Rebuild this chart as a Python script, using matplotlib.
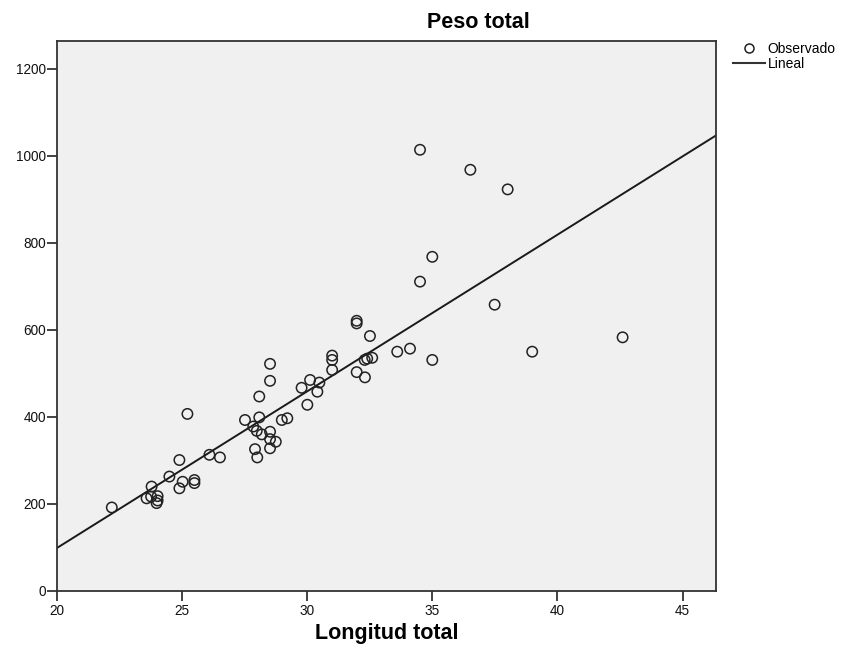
import matplotlib
matplotlib.use("Agg")
import matplotlib.pyplot as plt
from matplotlib.lines import Line2D
import numpy as np

plt.rcParams['font.family'] = ['Liberation Sans', 'DejaVu Sans']

# Observed data (Longitud total vs Peso total)
longitud = [22.2, 23.79, 23.59, 23.77, 24.03, 24.03, 23.99, 24.5, 24.9, 24.9,
            25.03, 25.5, 25.5, 25.22, 26.1, 26.52, 27.52, 27.85, 27.99, 28.19,
            28.09, 28.09, 28.52, 28.52, 28.52, 28.52, 28.75, 27.92, 28.52, 28.01,
            28.99, 29.21, 29.78, 30.12, 30.49, 30.41, 30.01, 31.0, 31.0, 31.0,
            31.98, 31.98, 32.51, 31.98, 32.31, 32.3, 32.4, 32.6, 33.6, 34.11,
            35.0, 35.0, 34.51, 34.51, 36.52, 38.01, 37.49, 38.99, 42.6]
peso = [192, 240, 213, 217, 218, 208, 202, 263, 301, 236,
        251, 255, 248, 407, 313, 307, 393, 378, 368, 360,
        399, 447, 522, 483, 366, 349, 343, 326, 328, 307,
        393, 397, 467, 485, 479, 458, 428, 541, 531, 508,
        621, 615, 586, 503, 491, 531, 534, 536, 550, 557,
        531, 768, 711, 1014, 968, 923, 658, 550, 583]

# Linear fit coefficients (intercept, slope)
lin_intercept = -621.9
lin_slope = 36.02

x_ticks = [20, 25, 30, 35, 40, 45]
y_ticks = [0, 200, 400, 600, 800, 1000, 1200]
x_lim = (20, 46.33)
y_lim = (0, 1264)

fig = plt.figure(figsize=(8.51, 6.53), dpi=100)
fig.patch.set_facecolor('white')
ax = fig.add_axes([56.7/851, 1-591/653, (716-56.7)/851, (591-41)/653])
ax.set_facecolor('#f0f0f0')

ax.scatter(longitud, peso, s=56, facecolors='none', edgecolors='#222222',
           linewidths=1.1, zorder=3)
xl = np.array(x_lim)
ax.plot(xl, lin_intercept + lin_slope * xl, color='#1a1a1a', lw=1.4, zorder=2)

ax.set_xlim(*x_lim)
ax.set_ylim(*y_lim)
ax.set_xticks(x_ticks)
ax.set_yticks(y_ticks)
ax.tick_params(axis='both', direction='out', length=7, width=1.2,
               color='#222222', labelsize=9.8, labelcolor='#111111')
ax.tick_params(axis='y', pad=0.5)
ax.tick_params(axis='x', pad=2.5)
for s in ax.spines.values():
    s.set_color('#333333')
    s.set_linewidth(1.3)

fig.text(478/851, 1-23/653, 'Peso total', ha='center', va='center',
         fontsize=15.5, fontweight='bold')
fig.text(387/851, 1-633/653, 'Longitud total', ha='center', va='center',
         fontsize=15.5, fontweight='bold')

handles = [Line2D([], [], linestyle='none', marker='o', markersize=6.5,
                  markerfacecolor='none', markeredgecolor='#222222', markeredgewidth=1.1),
           Line2D([], [], color='#333333', lw=1.5)]
fig.legend(handles, ['Observado', 'Lineal'], loc='upper left',
           bbox_to_anchor=(733/851, 1-42/653), frameon=False, fontsize=10,
           handlelength=2.3, handletextpad=0.2, labelspacing=0.05,
           borderpad=0, borderaxespad=0)

fig.savefig('out.png', dpi=100)
